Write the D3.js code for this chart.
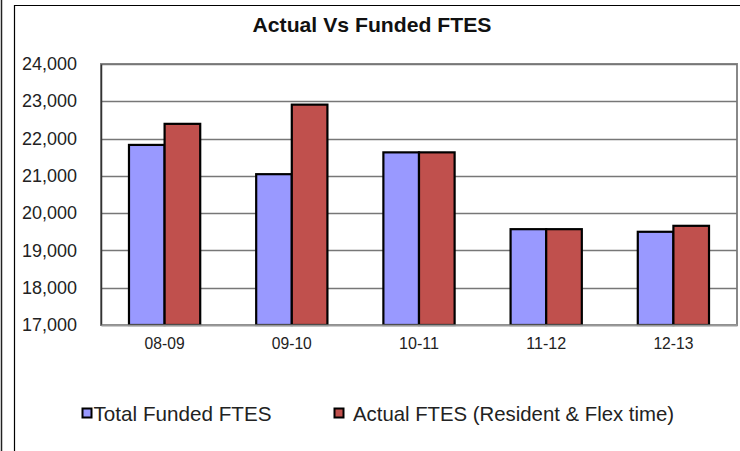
<!DOCTYPE html>
<html><head><meta charset="utf-8">
<script src="https://cdn.jsdelivr.net/npm/d3@7"></script>
<style>body{margin:0;background:#fff}svg{display:block}text{font-family:Arial,"Liberation Sans",sans-serif}</style>
</head><body>
<svg id="c" width="740" height="451"></svg>
<script>
const categories = ["08-09","09-10","10-11","11-12","12-13"];
const seriesNames = ["Total Funded FTES","Actual FTES (Resident & Flex time)"];
const funded = [21830, 21045, 21630, 19570, 19500];
const actual = [22395, 22910, 21630, 19570, 19660];
const yTicks = [17000,18000,19000,20000,21000,22000,23000,24000];
const colors = ["#9999ff","#c0504d"];

const svg = d3.select("#c");
// window borders
svg.append("line").attr("x1",1.5).attr("x2",1.5).attr("y1",0).attr("y2",451).attr("stroke","#222").attr("stroke-width",1.5);
svg.append("path").attr("d","M14.5,451V5.5H740").attr("fill","none").attr("stroke","#000").attr("stroke-width",1.2);

const m = {l:101, r:737, t:64, b:325};
const x0 = d3.scaleBand().domain(categories).range([m.l,m.r]).paddingInner(0.44).paddingOuter(0.22);
const x1 = d3.scaleBand().domain(seriesNames).range([0,x0.bandwidth()]);
const y = d3.scaleLinear().domain([17000,24000]).range([m.b,m.t]);

// plot area
svg.append("rect").attr("x",m.l).attr("y",m.t).attr("width",m.r-m.l).attr("height",m.b-m.t)
  .attr("fill","#fff").attr("stroke","#888").attr("stroke-width",2);
// gridlines
svg.append("g").selectAll("line").data(yTicks.slice(1)).join("line")
  .attr("x1",m.l).attr("x2",m.r).attr("y1",d=>Math.round(y(d))+0.5).attr("y2",d=>Math.round(y(d))+0.5)
  .attr("stroke","#777").attr("stroke-width",1.5);

// y axis
const yAxis = svg.append("g").attr("transform",`translate(${m.l},0)`)
  .call(d3.axisLeft(y).tickValues(yTicks).tickFormat(d3.format(",")).tickSize(0).tickPadding(24));
yAxis.select(".domain").attr("stroke","#333").attr("stroke-width",1.5);
yAxis.selectAll("text").attr("font-size",17.5).attr("fill","#222")
  .attr("textLength",55).attr("lengthAdjust","spacingAndGlyphs");

// bars
const data = categories.map((c,i)=>({c, vals:[funded[i],actual[i]]}));
const g = svg.append("g").selectAll("g").data(data).join("g").attr("transform",d=>`translate(${x0(d.c)},0)`);
g.selectAll("rect").data(d=>d.vals.map((v,j)=>({name:seriesNames[j],v,j}))).join("rect")
  .attr("x",d=>x1(d.name)).attr("width",x1.bandwidth())
  .attr("y",d=>y(d.v)).attr("height",d=>y(17000)-y(d.v))
  .attr("fill",d=>colors[d.j]).attr("stroke","#000").attr("stroke-width",2.2);

// bottom axis
const xAxis = svg.append("g").attr("transform",`translate(0,${m.b})`)
  .call(d3.axisBottom(x0).tickSize(0).tickPadding(12.5));
xAxis.select(".domain").attr("stroke","#999").attr("stroke-width",2);
xAxis.selectAll("text").attr("font-size",16.5).attr("fill","#222")
  .attr("textLength",40).attr("lengthAdjust","spacingAndGlyphs");

// title
svg.append("text").attr("x",372).attr("y",32).attr("text-anchor","middle")
  .attr("font-size",20.5).attr("font-weight","bold").attr("fill","#111")
  .attr("textLength",239).attr("lengthAdjust","spacingAndGlyphs").text("Actual Vs Funded FTES");

// legend
const legX = [82, 334];
const leg = svg.append("g").selectAll("g").data(seriesNames).join("g")
  .attr("transform",(d,i)=>`translate(${legX[i]},408)`);
leg.append("rect").attr("x",0.5).attr("y",0.5).attr("width",9).attr("height",9)
  .attr("fill",(d,i)=>colors[i]).attr("stroke","#000").attr("stroke-width",2);
leg.append("text").attr("x",(d,i)=>[11.5,19][i]).attr("y",13).attr("font-size",21).attr("fill","#222")
  .attr("textLength",(d,i)=>[178,321][i]).attr("lengthAdjust","spacingAndGlyphs").text(d=>d);
</script>
</body></html>
